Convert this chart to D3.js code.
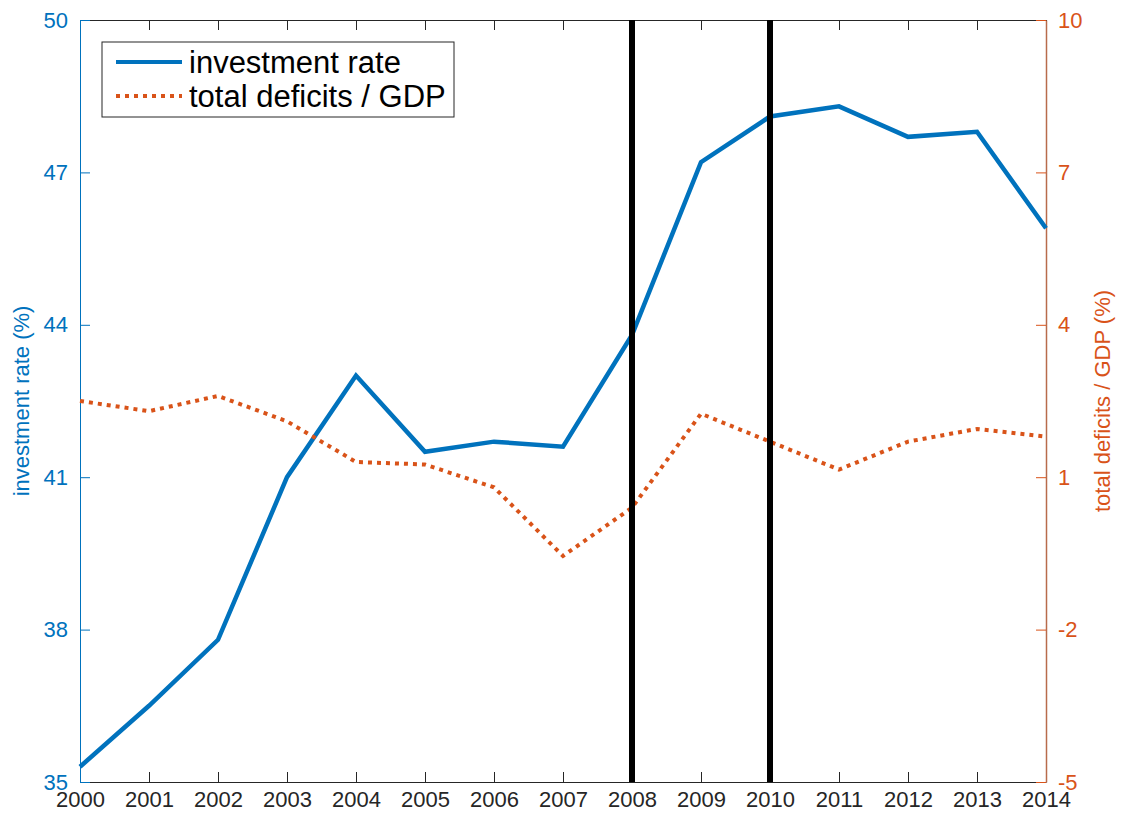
<!DOCTYPE html>
<html>
<head>
<meta charset="utf-8">
<script src="https://cdn.jsdelivr.net/npm/d3@7"></script>
<style>
  body { margin: 0; background: #fff; }
  svg text { font-family: "Liberation Sans", Arial, Helvetica, sans-serif; }
</style>
</head>
<body>
<svg id="chart"></svg>
<script>
// data
var years = [2000, 2001, 2002, 2003, 2004, 2005, 2006, 2007, 2008, 2009, 2010, 2011, 2012, 2013, 2014];
var investmentRate = [35.3, 36.5, 37.8, 41.0, 43.0, 41.5, 41.7, 41.6, 43.8, 47.2, 48.1, 48.3, 47.7, 47.8, 45.9];
var deficitsGdp = [2.5, 2.3, 2.6, 2.1, 1.3, 1.25, 0.8, -0.55, 0.4, 2.25, 1.7, 1.15, 1.7, 1.95, 1.8];
var crisisYears = [2008, 2010];
var leftTicks = [35, 38, 41, 44, 47, 50];
var rightTicks = [-5, -2, 1, 4, 7, 10];
var legendLabels = ["investment rate", "total deficits / GDP"];

var width = 1123;
var height = 819;
var plotLeft = 80, plotRight = 1046, plotTop = 20, plotBottom = 782;

var blue = "#0072BD";
var orange = "#D95319";
var grey = "#262626";

// plain hyphen like the original, not the unicode minus
var plainNum = function(d) { return String(d); };

var svg = d3.select("#chart")
    .attr("width", width)
    .attr("height", height);

//scales
var xScale = d3.scaleLinear()
    .domain([2000, 2014])
    .range([plotLeft, plotRight]);

var yLeft = d3.scaleLinear()
    .domain([35, 50])
    .range([plotBottom, plotTop]);

var yRight = d3.scaleLinear()
    .domain([-5, 10])
    .range([plotBottom, plotTop]);

//bottom axis, ticks point inward
var xAxis = svg.append("g")
    .attr("transform", "translate(0," + plotBottom + ")")
    .call(d3.axisBottom(xScale).tickValues(years).tickFormat(plainNum).tickSizeInner(-10).tickSizeOuter(0).tickPadding(9));
xAxis.select(".domain").attr("stroke", grey).attr("stroke-width", 1);
xAxis.selectAll(".tick line").attr("stroke", grey);
xAxis.selectAll("text").attr("fill", grey).attr("font-size", 22).attr("dy", "0.72em");

//top box edge with ticks
var xTop = svg.append("g")
    .attr("transform", "translate(0," + plotTop + ")")
    .call(d3.axisTop(xScale).tickValues(years).tickFormat("").tickSizeInner(-10).tickSizeOuter(0));
xTop.select(".domain").attr("stroke", grey);
xTop.selectAll(".tick line").attr("stroke", grey);

//left axis
var yAxisL = svg.append("g")
    .attr("transform", "translate(" + plotLeft + ",0)")
    .call(d3.axisLeft(yLeft).tickValues(leftTicks).tickFormat(plainNum).tickSizeInner(-10).tickSizeOuter(0).tickPadding(12));
yAxisL.select(".domain").attr("stroke", blue);
yAxisL.selectAll(".tick line").attr("stroke", blue);
yAxisL.selectAll("text").attr("fill", blue).attr("font-size", 22);

//right axis
var yAxisR = svg.append("g")
    .attr("transform", "translate(" + plotRight + ",0)")
    .call(d3.axisRight(yRight).tickValues(rightTicks).tickFormat(plainNum).tickSizeInner(-10).tickSizeOuter(0).tickPadding(12));
yAxisR.select(".domain").attr("stroke", "#B86B4B").attr("stroke-width", 1.5);
yAxisR.selectAll(".tick line").attr("stroke", orange);
yAxisR.selectAll("text").attr("fill", orange).attr("font-size", 22);

//axis titles
svg.append("text")
    .attr("transform", "translate(29," + (plotTop + plotBottom) / 2 + ") rotate(-90)")
    .attr("text-anchor", "middle")
    .attr("fill", blue)
    .attr("font-size", 22)
    .text("investment rate (%)");

svg.append("text")
    .attr("transform", "translate(1110," + (plotTop + plotBottom) / 2 + ") rotate(-90)")
    .attr("text-anchor", "middle")
    .attr("fill", orange)
    .attr("font-size", 22)
    .text("total deficits / GDP (%)");

//series lines
var lineLeft = d3.line()
    .x(function(d, i) { return xScale(years[i]); })
    .y(function(d) { return yLeft(d); });

var lineRight = d3.line()
    .x(function(d, i) { return xScale(years[i]); })
    .y(function(d) { return yRight(d); });

svg.append("path")
    .datum(investmentRate)
    .attr("d", lineLeft)
    .attr("fill", "none")
    .attr("stroke", blue)
    .attr("stroke-width", 4.5);

svg.append("path")
    .datum(deficitsGdp)
    .attr("d", lineRight)
    .attr("fill", "none")
    .attr("stroke", orange)
    .attr("stroke-width", 4)
    .attr("stroke-dasharray", "4,5");

//vertical markers
svg.selectAll(".crisis")
    .data(crisisYears)
    .enter()
    .append("line")
    .attr("class", "crisis")
    .attr("x1", function(d) { return xScale(d); })
    .attr("x2", function(d) { return xScale(d); })
    .attr("y1", plotTop)
    .attr("y2", plotBottom)
    .attr("stroke", "#000")
    .attr("stroke-width", 6);

//legend
var legend = svg.append("g");
legend.append("rect")
    .attr("x", 102)
    .attr("y", 42)
    .attr("width", 352)
    .attr("height", 75)
    .attr("fill", "#fff")
    .attr("stroke", grey)
    .attr("stroke-width", 1);

var rows = legend.selectAll(".row")
    .data(legendLabels)
    .enter()
    .append("g")
    .attr("transform", function(d, i) { return "translate(0," + (62 + i * 34) + ")"; });

rows.append("line")
    .attr("x1", 116)
    .attr("x2", 182)
    .attr("y1", 0)
    .attr("y2", 0)
    .attr("stroke", function(d, i) { return i == 0 ? blue : orange; })
    .attr("stroke-width", 4)
    .attr("stroke-dasharray", function(d, i) { return i == 0 ? null : "4,5"; });

rows.append("text")
    .attr("x", 189)
    .attr("y", 0)
    .attr("dy", "0.35em")
    .attr("font-size", 31)
    .attr("fill", "#000")
    .text(function(d) { return d; });
</script>
</body>
</html>
